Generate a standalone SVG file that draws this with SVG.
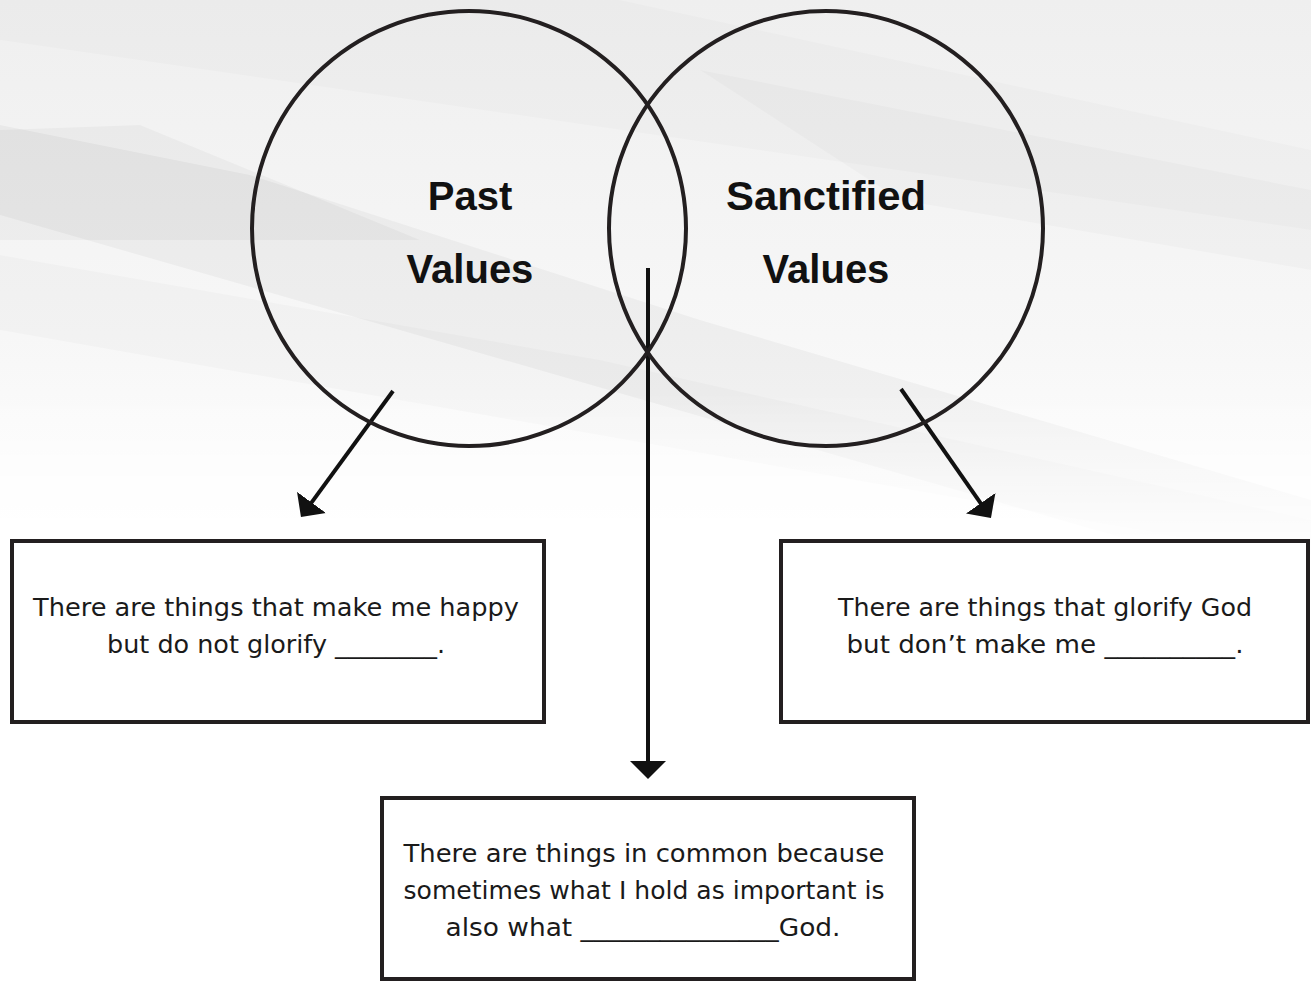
<svg xmlns="http://www.w3.org/2000/svg" width="1311" height="981" viewBox="0 0 1311 981">
  <defs>
    <linearGradient id="bg" x1="0" y1="0" x2="0" y2="1">
      <stop offset="0" stop-color="#efefef"/>
      <stop offset="0.6" stop-color="#f7f7f7"/>
      <stop offset="1" stop-color="#ffffff"/>
    </linearGradient>
    <linearGradient id="fade" x1="0" y1="0" x2="0" y2="1">
      <stop offset="0" stop-color="#fff"/>
      <stop offset="0.7" stop-color="#fff"/>
      <stop offset="1" stop-color="#000"/>
    </linearGradient>
    <mask id="fadeMask" maskUnits="userSpaceOnUse" x="0" y="0" width="1311" height="560">
      <rect x="0" y="0" width="1311" height="560" fill="url(#fade)"/>
    </mask>
    <marker id="head" viewBox="0 0 18 36" refX="2" refY="18" markerWidth="18" markerHeight="36" markerUnits="userSpaceOnUse" orient="auto">
      <path d="M0,0 L18,18 L0,36 Z" fill="#111"/>
    </marker>
    <style>
      .ring { fill: none; stroke: #231f20; stroke-width: 4; }
      .title { font-family: "Liberation Sans", Arial, sans-serif; font-weight: bold; font-size: 40px; fill: #111; text-anchor: middle; }
      .box { fill: #ffffff; stroke: #231f20; stroke-width: 4; }
      .body { font-family: "DejaVu Sans", "Liberation Sans", sans-serif; font-size: 24.5px; fill: #1a1a1a; text-anchor: middle; }
      .conn { stroke: #111; stroke-width: 4; fill: none; }
    </style>
  </defs>

  <!-- background -->
  <rect x="0" y="0" width="1311" height="981" fill="#ffffff"/>
  <g mask="url(#fadeMask)">
    <rect x="0" y="0" width="1311" height="560" fill="url(#bg)"/>
    <g fill="#000">
      <polygon points="0,0 620,0 1311,150 1311,230 0,40" opacity="0.015"/>
      <polygon points="0,125 250,175 700,320 1311,500 1311,560 1200,560 0,215" opacity="0.035"/>
      <polygon points="0,130 140,125 420,240 0,240" opacity="0.03"/>
      <polygon points="0,255 600,360 1311,520 1311,560 0,330" opacity="0.02"/>
      <polygon points="700,70 1311,190 1311,270 900,200" opacity="0.018"/>
    </g>
  </g>

  <!-- connectors -->
  <g id="connectors">
    <line class="conn" x1="648" y1="268" x2="648" y2="763" marker-end="url(#head)"/>
    <line class="conn" x1="393" y1="391" x2="310.4" y2="504.1" marker-end="url(#head)"/>
    <line class="conn" x1="901" y1="389" x2="981.8" y2="504.9" marker-end="url(#head)"/>
  </g>

  <g id="past-values">
    <ellipse class="ring" cx="469" cy="228.5" rx="217" ry="217.5"/>
    <text class="title" x="470" y="210">Past</text>
    <text class="title" x="470" y="283">Values</text>
  </g>

  <g id="sanctified-values">
    <ellipse class="ring" cx="826" cy="228.5" rx="217" ry="217.5"/>
    <text class="title" x="826" y="210" textLength="200" lengthAdjust="spacingAndGlyphs">Sanctified</text>
    <text class="title" x="826" y="283">Values</text>
  </g>

  <g id="box-left">
    <rect class="box" x="12" y="541" width="532" height="181"/>
    <text class="body" x="276" y="616" textLength="486" lengthAdjust="spacingAndGlyphs">There are things that make me happy</text>
    <text class="body" x="276" y="653" textLength="338" lengthAdjust="spacingAndGlyphs">but do not glorify ________.</text>
  </g>

  <g id="box-right">
    <rect class="box" x="781" y="541" width="527" height="181"/>
    <text class="body" x="1045" y="616" textLength="414" lengthAdjust="spacingAndGlyphs">There are things that glorify God</text>
    <text class="body" x="1045" y="653" textLength="397" lengthAdjust="spacingAndGlyphs">but don’t make me __________.</text>
  </g>

  <g id="box-bottom">
    <rect class="box" x="382" y="798" width="532" height="181"/>
    <text class="body" x="644" y="862" textLength="481" lengthAdjust="spacingAndGlyphs">There are things in common because</text>
    <text class="body" x="644" y="899" textLength="481" lengthAdjust="spacingAndGlyphs">sometimes what I hold as important is</text>
    <text class="body" x="643" y="936" textLength="395" lengthAdjust="spacingAndGlyphs">also what _______________God.</text>
  </g>
</svg>
